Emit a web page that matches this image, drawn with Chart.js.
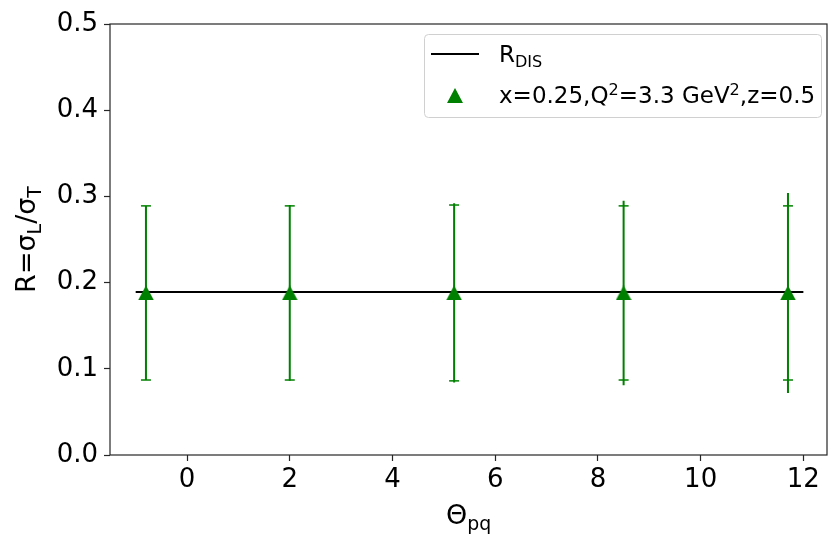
<!DOCTYPE html>
<html>
<head>
<meta charset="utf-8">
<script src="https://cdn.jsdelivr.net/npm/chart.js@4.4.1/dist/chart.umd.min.js"></script>
<style>
  html, body { margin: 0; padding: 0; background: #fff; }
  #wrap { position: relative; width: 836px; height: 535px; }
</style>
</head>
<body>
<div id="wrap"><canvas id="rChart" width="836" height="535"></canvas></div>
<script>
/*=========================================
DATA
=========================================*/

const thetaPq = [-0.8, 2, 5.2, 8.5, 11.7];
const ratioR = [0.188, 0.188, 0.188, 0.188, 0.188];
const statErr = [0.101, 0.101, 0.102, 0.101, 0.101];
const totalErr = [0.101, 0.102, 0.104, 0.107, 0.116];

const rDisX = [-1, 12];
const rDisY = [0.189, 0.189];

const xTicks = [0, 2, 4, 6, 8, 10, 12];
const yTicks = [0.0, 0.1, 0.2, 0.3, 0.4, 0.5];

const GREEN = "#008000";
const FONT = "'DejaVu Sans', Verdana, sans-serif";

/*=========================================
MARKER (matplotlib style "^", centred on its box)
=========================================*/

function makeTriangle(w, h, color) {
    const c = document.createElement("canvas");
    c.width = w;
    c.height = h;
    const g = c.getContext("2d");
    g.fillStyle = color;
    g.beginPath();
    g.moveTo(w / 2, 0);
    g.lineTo(w, h);
    g.lineTo(0, h);
    g.closePath();
    g.fill();
    return c;
}

const triangle = makeTriangle(16, 15, GREEN);

/*=========================================
TEXT WITH SUB / SUPERSCRIPTS
=========================================*/

function richWidth(ctx, parts, size) {
    let w = 0;
    parts.forEach(p => {
        ctx.font = (p.s ? size * 0.7 : size) + "px " + FONT;
        w += ctx.measureText(p.t).width;
    });
    return w;
}

function drawRich(ctx, parts, x, y, size) {
    let cx = x;
    parts.forEach(p => {
        const fs = p.s ? size * 0.7 : size;
        ctx.font = fs + "px " + FONT;
        let dy = 0;
        if (p.s === "sub") dy = size * 0.22;
        if (p.s === "sup") dy = -size * 0.36;
        ctx.fillText(p.t, cx, y + dy);
        cx += ctx.measureText(p.t).width;
    });
}

/*=========================================
PLUGINS
=========================================*/

const errorBars = {
    id: "errorBars",
    beforeDatasetDraw(chart, args) {
        if (args.index !== 0) return;
        const { ctx, scales: { x, y } } = chart;
        ctx.save();
        ctx.strokeStyle = GREEN;
        thetaPq.forEach((t, i) => {
            const px = x.getPixelForValue(t);
            const yc = ratioR[i];
            ctx.lineWidth = 2;
            ctx.beginPath();
            ctx.moveTo(px, y.getPixelForValue(yc + totalErr[i]));
            ctx.lineTo(px, y.getPixelForValue(yc - totalErr[i]));
            ctx.moveTo(px, y.getPixelForValue(yc + statErr[i]));
            ctx.lineTo(px, y.getPixelForValue(yc - statErr[i]));
            ctx.stroke();
            ctx.lineWidth = 1.5;
            [yc + statErr[i], yc - statErr[i]].forEach(v => {
                const py = y.getPixelForValue(v);
                ctx.beginPath();
                ctx.moveTo(px - 5, py);
                ctx.lineTo(px + 5, py);
                ctx.stroke();
            });
        });
        ctx.restore();
    }
};

const frameAndText = {
    id: "frameAndText",
    afterDraw(chart) {
        const { ctx, chartArea: a } = chart;
        ctx.save();

        // frame
        ctx.strokeStyle = "#262626";
        ctx.lineWidth = 1.2;
        ctx.strokeRect(a.left, a.top, a.right - a.left, a.bottom - a.top);

        ctx.fillStyle = "#000";
        ctx.textBaseline = "alphabetic";

        // x title
        const xt = [{ t: "Θ" }, { t: "pq", s: "sub" }];
        const xw = richWidth(ctx, xt, 27);
        drawRich(ctx, xt, (a.left + a.right) / 2 - xw / 2, 524, 27);

        // y title
        const yt = [{ t: "R=σ" }, { t: "L", s: "sub" }, { t: "/σ" }, { t: "T", s: "sub" }];
        ctx.save();
        ctx.translate(35, (a.top + a.bottom) / 2);
        ctx.rotate(-Math.PI / 2);
        const yw = richWidth(ctx, yt, 27);
        drawRich(ctx, yt, -yw / 2, 0, 27);
        ctx.restore();

        // legend
        ctx.fillStyle = "rgba(255,255,255,0.8)";
        ctx.strokeStyle = "#d0d0d0";
        ctx.lineWidth = 1;
        ctx.beginPath();
        ctx.roundRect(424.5, 34.5, 397, 83, 4);
        ctx.fill();
        ctx.stroke();

        ctx.strokeStyle = "#000";
        ctx.lineWidth = 2;
        ctx.beginPath();
        ctx.moveTo(431, 54);
        ctx.lineTo(479, 54);
        ctx.stroke();
        ctx.drawImage(triangle, 455 - 8, 95 - 7);

        ctx.fillStyle = "#000";
        drawRich(ctx, [{ t: "R" }, { t: "DIS", s: "sub" }], 499, 62, 23);
        drawRich(ctx, [
            { t: "x=0.25,Q" }, { t: "2", s: "sup" }, { t: "=3.3 GeV" },
            { t: "2", s: "sup" }, { t: ",z=0.5" }
        ], 499, 103, 23);

        ctx.restore();
    }
};

/*=========================================
CHART
=========================================*/

const canvas = document.getElementById("rChart");

new Chart(canvas, {
    type: "scatter",
    data: {
        datasets: [
            {
                label: "x=0.25,Q2=3.3 GeV2,z=0.5",
                data: thetaPq.map((t, i) => ({ x: t, y: ratioR[i] })),
                pointStyle: triangle,
                pointRadius: 8,
                showLine: false
            },
            {
                label: "RDIS",
                type: "line",
                data: rDisX.map((t, i) => ({ x: t, y: rDisY[i] })),
                borderColor: "#000",
                borderWidth: 2,
                pointRadius: 0,
                fill: false
            }
        ]
    },
    options: {
        responsive: false,
        animation: false,
        layout: {
            padding: { top: 24, right: 1, left: 0, bottom: 0 }
        },
        plugins: {
            legend: { display: false },
            tooltip: { enabled: false }
        },
        scales: {
            x: {
                type: "linear",
                min: -1.5,
                max: 12.46,
                afterBuildTicks: s => { s.ticks = xTicks.map(v => ({ value: v })); },
                afterFit: s => {
                    s.height = 80;
                    s.paddingLeft = 0;
                    s.paddingRight = 0;
                },
                grid: {
                    drawOnChartArea: false,
                    drawTicks: true,
                    tickLength: 6,
                    tickColor: "#262626",
                    tickWidth: 1.2
                },
                border: { display: false },
                ticks: {
                    color: "#000",
                    font: { family: FONT, size: 26 },
                    padding: 4,
                    maxRotation: 0
                }
            },
            y: {
                min: 0,
                max: 0.5,
                afterBuildTicks: s => { s.ticks = yTicks.map(v => ({ value: v })); },
                afterFit: s => {
                    s.width = 110;
                    s.paddingTop = 0;
                    s.paddingBottom = 0;
                },
                grid: {
                    drawOnChartArea: false,
                    drawTicks: true,
                    tickLength: 6,
                    tickColor: "#262626",
                    tickWidth: 1.2
                },
                border: { display: false },
                ticks: {
                    color: "#000",
                    font: { family: FONT, size: 26 },
                    padding: 6,
                    callback: v => v.toFixed(1)
                }
            }
        }
    },
    plugins: [errorBars, frameAndText]
});
</script>
</body>
</html>
